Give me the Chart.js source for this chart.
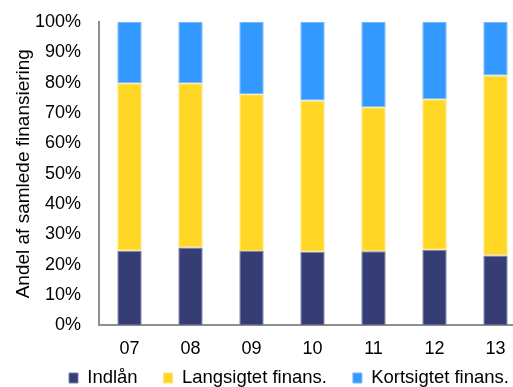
<!DOCTYPE html>
<html>
<head>
<meta charset="utf-8">
<script src="https://cdn.jsdelivr.net/npm/chart.js@4/dist/chart.umd.min.js"></script>
<style>
  html, body { margin: 0; padding: 0; background: #fff; overflow: hidden; }
  #wrap { width: 530px; height: 387px; }
</style>
</head>
<body>
<div id="wrap"><canvas id="chart" width="530" height="387"></canvas></div>
<script>
"use strict";

// ── Data ────────────────────────────────────────────────────────────────────
const years      = ["07", "08", "09", "10", "11", "12", "13"];
const indlaan    = [24.6, 25.7, 24.5, 24.3, 24.4, 24.9, 23.0];
const langsigtet = [55.2, 54.1, 51.7, 49.8, 47.5, 49.6, 59.4];
const kortsigtet = [20.2, 20.2, 23.8, 25.9, 28.1, 25.5, 17.6];
const yTicks     = [0, 10, 20, 30, 40, 50, 60, 70, 80, 90, 100];

const FONT = "'Liberation Sans', Arial, sans-serif";

// legend sits under the axis labels, starting a bit left of the plot
const LEGEND_X   = 69;
const LEGEND_MID = 378;

const legendPlacement = {
  id: "legendPlacement",
  afterLayout(chart) {
    const lg = chart.legend;
    const pad = lg.options.labels.padding;
    const size = lg.options.labels.font.size;
    const dx = LEGEND_X - pad - lg.left;
    lg.left += dx;
    lg.right += dx;
    lg.top = LEGEND_MID - pad - size / 2;
  },
};

function dataset(label, data, fill, edge) {
  return {
    label,
    data,
    backgroundColor: fill,
    borderColor: edge,
    borderWidth: 1,
    borderSkipped: false,
    categoryPercentage: 1,
    barPercentage: 0.4,
  };
}

new Chart(document.getElementById("chart"), {
  type: "bar",
  data: {
    labels: years,
    datasets: [
      dataset("Indlån", indlaan, "#363c74", "#7c80aa"),
      dataset("Langsigtet finans.", langsigtet, "#ffd724", "#ffe36e"),
      dataset("Kortsigtet finans.", kortsigtet, "#3399ff", "#75b8ff"),
    ],
  },
  options: {
    responsive: false,
    devicePixelRatio: 1,
    animation: false,
    layout: { padding: { top: 22, right: 4, left: 0, bottom: 0 } },
    plugins: {
      tooltip: { enabled: false },
      legend: {
        position: "bottom",
        align: "start",
        maxHeight: 14,
        labels: {
          boxWidth: 9,
          boxHeight: 10,
          padding: 26,
          color: "#000",
          font: { family: FONT, size: 18.5 },
        },
      },
    },
    scales: {
      x: {
        stacked: true,
        grid: { display: false, drawTicks: false },
        border: { display: true, color: "#8f8f8f", width: 2 },
        ticks: { color: "#000", padding: 13, font: { family: FONT, size: 18 } },
      },
      y: {
        stacked: true,
        min: 0,
        max: 100,
        afterFit: (scale) => {
          scale.width = 99;
          scale.paddingTop = 0;
          scale.paddingBottom = 0;
        },
        afterBuildTicks: (scale) => { scale.ticks = yTicks.map(v => ({ value: v })); },
        grid: { display: false, drawTicks: false },
        border: { display: true, color: "#8f8f8f", width: 2 },
        ticks: {
          color: "#000",
          padding: 18,
          font: { family: FONT, size: 18 },
          callback: (v) => v + "%",
        },
        title: {
          display: true,
          text: "Andel af samlede finansiering",
          color: "#000",
          padding: { top: 12, bottom: 0 },
          font: { family: FONT, size: 19 },
        },
      },
    },
  },
  plugins: [legendPlacement],
});
</script>
</body>
</html>
